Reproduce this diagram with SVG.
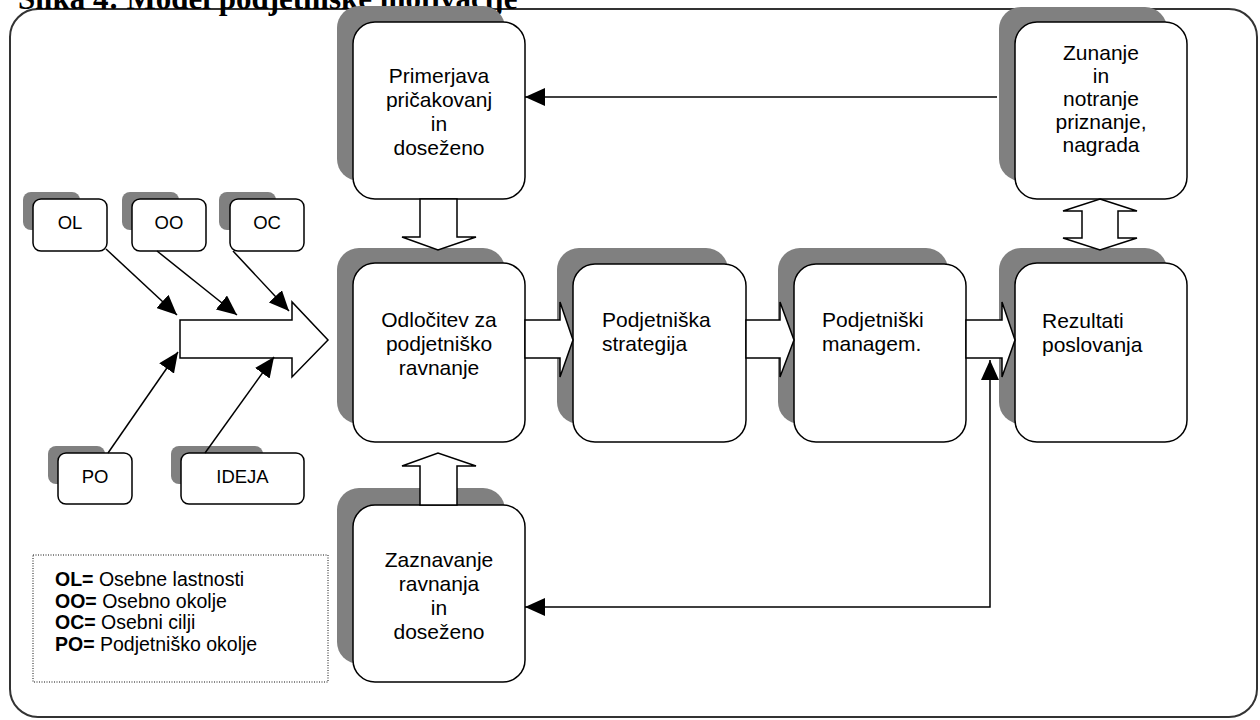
<svg xmlns="http://www.w3.org/2000/svg" width="1260" height="720" viewBox="0 0 1260 720">
  <defs>
    <marker id="head" markerUnits="userSpaceOnUse" markerWidth="20" markerHeight="18" refX="20" refY="9" orient="auto-start-reverse">
      <path d="M0,0 L20,9 L0,18 z" fill="#000"/>
    </marker>
    <style>
      .frame { fill: #fff; stroke: #333; stroke-width: 2; }
      .shadow { fill: #808080; stroke: none; }
      .box { fill: #fff; stroke: #000; stroke-width: 1.5; }
      .block { fill: #fff; stroke: #000; stroke-width: 1.5; stroke-linejoin: miter; }
      .line { fill: none; stroke: #000; stroke-width: 1.5; }
      .t { font-family: "Liberation Sans", Arial, sans-serif; font-size: 21px; fill: #000; }
      .tc { text-anchor: middle; }
      .ts { font-family: "Liberation Sans", Arial, sans-serif; font-size: 18.5px; fill: #000; text-anchor: middle; }
      .legend { font-family: "Liberation Sans", Arial, sans-serif; font-size: 19.5px; fill: #000; }
      .title { font-family: "Liberation Serif", "Times New Roman", serif; font-size: 31px; font-weight: bold; fill: #000; }
    </style>
  </defs>

  <rect width="1260" height="720" fill="#fff"/>

  <!-- outer frame and heading -->
  <rect class="frame" x="10" y="9" width="1247" height="708" rx="28"/>
  <text class="title" x="18" y="8.5">Slika 4: Model podjetniške motivacije</text>

  <!-- small input nodes -->
  <g id="node-ol">
    <rect class="shadow" x="23" y="192" width="57" height="38" rx="8"/>
    <rect class="box" x="33" y="199" width="74" height="52" rx="8"/>
    <text class="ts" x="70" y="229">OL</text>
  </g>
  <g id="node-oo">
    <rect class="shadow" x="122" y="192" width="57" height="38" rx="8"/>
    <rect class="box" x="132" y="199" width="74" height="52" rx="8"/>
    <text class="ts" x="169" y="229">OO</text>
  </g>
  <g id="node-oc">
    <rect class="shadow" x="219" y="192" width="57" height="38" rx="8"/>
    <rect class="box" x="230" y="199" width="74" height="52" rx="8"/>
    <text class="ts" x="267" y="229">OC</text>
  </g>
  <g id="node-po">
    <rect class="shadow" x="48" y="446" width="57" height="38" rx="8"/>
    <rect class="box" x="58" y="453" width="74" height="51" rx="8"/>
    <text class="ts" x="95" y="483">PO</text>
  </g>
  <g id="node-ideja">
    <rect class="shadow" x="171" y="446" width="92" height="38" rx="8"/>
    <rect class="box" x="181" y="453" width="123" height="51" rx="8"/>
    <text class="ts" x="242.5" y="483">IDEJA</text>
  </g>

  <!-- main process nodes -->
  <g id="node-primerjava">
    <rect class="shadow" x="337" y="6" width="168" height="175" rx="22"/>
    <rect class="box" x="353" y="22" width="172" height="177" rx="22"/>
    <text class="t tc" x="439" y="83">Primerjava</text>
    <text class="t tc" x="439" y="107">pričakovanj</text>
    <text class="t tc" x="439" y="131">in</text>
    <text class="t tc" x="439" y="155">doseženo</text>
  </g>
  <g id="node-odlocitev">
    <rect class="shadow" x="337" y="248" width="168" height="176" rx="22"/>
    <rect class="box" x="353" y="263" width="172" height="179" rx="22"/>
    <text class="t tc" x="439" y="327">Odločitev za</text>
    <text class="t tc" x="439" y="351">podjetniško</text>
    <text class="t tc" x="439" y="375">ravnanje</text>
  </g>
  <g id="node-zaznavanje">
    <rect class="shadow" x="337" y="488" width="168" height="176" rx="22"/>
    <rect class="box" x="353" y="505" width="172" height="177" rx="22"/>
    <text class="t tc" x="439" y="567">Zaznavanje</text>
    <text class="t tc" x="439" y="591">ravnanja</text>
    <text class="t tc" x="439" y="615">in</text>
    <text class="t tc" x="439" y="639">doseženo</text>
  </g>
  <g id="node-strategija">
    <rect class="shadow" x="557" y="248" width="171" height="176" rx="22"/>
    <rect class="box" x="573" y="264" width="173" height="178" rx="22"/>
    <text class="t" x="602" y="327">Podjetniška</text>
    <text class="t" x="602" y="351">strategija</text>
  </g>
  <g id="node-management">
    <rect class="shadow" x="778" y="248" width="170" height="176" rx="22"/>
    <rect class="box" x="794" y="264" width="172" height="178" rx="22"/>
    <text class="t" x="822" y="327">Podjetniški</text>
    <text class="t" x="822" y="351">managem.</text>
  </g>
  <g id="node-rezultati">
    <rect class="shadow" x="999" y="248" width="168" height="176" rx="22"/>
    <rect class="box" x="1015" y="263" width="172" height="179" rx="22"/>
    <text class="t" x="1042" y="328">Rezultati</text>
    <text class="t" x="1042" y="352">poslovanja</text>
  </g>
  <g id="node-zunanje">
    <rect class="shadow" x="999" y="7" width="168" height="174" rx="22"/>
    <rect class="box" x="1015" y="22" width="172" height="177" rx="22"/>
    <text class="t tc" x="1101" y="60">Zunanje</text>
    <text class="t tc" x="1101" y="83">in</text>
    <text class="t tc" x="1101" y="106">notranje</text>
    <text class="t tc" x="1101" y="129">priznanje,</text>
    <text class="t tc" x="1101" y="152">nagrada</text>
  </g>

  <!-- connectors -->
  <g id="connectors">
    <!-- block arrows -->
    <polygon class="block" points="180,320 292,320 292,302 328,340 292,377 292,358 180,358"/>
    <polygon class="block" points="525,320 560,320 560,302 573,340 560,377 560,358 525,358"/>
    <polygon class="block" points="746,320 780,320 780,302 794,340 780,377 780,358 746,358"/>
    <polygon class="block" points="966,320 1002,320 1002,302 1015,340 1002,377 1002,358 966,358"/>
    <polygon class="block" points="420,199 420,237 402,237 438,250 476,237 457,237 457,199"/>
    <polygon class="block" points="420,505 420,466 402,466 438,453 476,466 457,466 457,505"/>
    <polygon class="block" points="1100,199 1137,211 1118,211 1118,238 1137,238 1100,250 1063,238 1082,238 1082,211 1063,211"/>

    <!-- inputs into the decision arrow -->
    <line class="line" x1="106" y1="249" x2="177" y2="315" marker-end="url(#head)"/>
    <line class="line" x1="157" y1="251" x2="237" y2="315" marker-end="url(#head)"/>
    <line class="line" x1="233" y1="251" x2="289" y2="311" marker-end="url(#head)"/>
    <line class="line" x1="108" y1="453" x2="178" y2="352" marker-end="url(#head)"/>
    <line class="line" x1="205" y1="453" x2="274" y2="357" marker-end="url(#head)"/>

    <!-- feedback loops -->
    <line class="line" x1="997" y1="97" x2="525" y2="97" marker-end="url(#head)"/>
    <path class="line" d="M525,607 H990 V360" marker-start="url(#head)" marker-end="url(#head)"/>
  </g>

  <!-- legend -->
  <g id="legend">
    <rect x="33" y="555" width="295" height="127" fill="none" stroke="#111" stroke-width="1" stroke-dasharray="1,1.5"/>
    <text class="legend" x="55" y="586"><tspan font-weight="bold">OL=</tspan> Osebne lastnosti</text>
    <text class="legend" x="55" y="607.5"><tspan font-weight="bold">OO=</tspan> Osebno okolje</text>
    <text class="legend" x="55" y="629"><tspan font-weight="bold">OC=</tspan> Osebni cilji</text>
    <text class="legend" x="55" y="650.5"><tspan font-weight="bold">PO=</tspan> Podjetniško okolje</text>
  </g>
</svg>
